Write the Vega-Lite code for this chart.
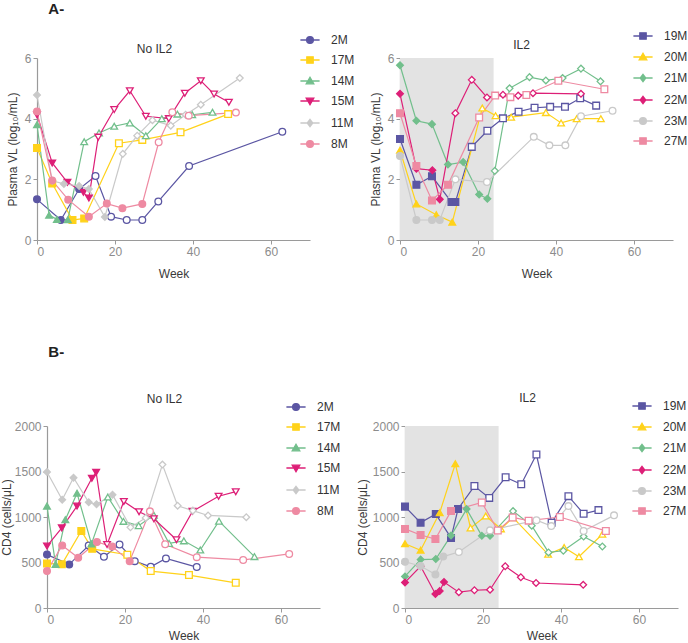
{
  "$schema": "https://vega.github.io/schema/vega-lite/v6.json",
  "padding": {"left": 0, "top": 2, "right": 0, "bottom": 0},
  "config": {
    "font": "Liberation Sans",
    "view": {"stroke": null},
    "axis": {"grid": false, "domainColor": "#9a9a9a", "tickColor": "#9a9a9a", "labelColor": "#8c8c8c", "labelFontSize": 12, "titleFontSize": 12, "titleFontWeight": "normal", "titleColor": "#3a3a3a", "domainWidth": 1.2, "tickSize": 4, "labelPadding": 2},
    "axisX": {"titlePadding": 11},
    "title": {"fontSize": 12, "fontWeight": "normal", "color": "#333333"},
    "legend": {"titleFontSize": 12}
  },
  "datasets": {
    "vl_noil2": [
      {"animal":"2M","week":0,"value":1.34,"phase":"on"},
      {"animal":"2M","week":6.1,"value":0.66,"phase":"on"},
      {"animal":"2M","week":10.8,"value":1.68,"phase":"on"},
      {"animal":"2M","week":15,"value":2.11,"phase":"off"},
      {"animal":"2M","week":19,"value":0.77,"phase":"off"},
      {"animal":"2M","week":23,"value":0.66,"phase":"off"},
      {"animal":"2M","week":27,"value":0.66,"phase":"off"},
      {"animal":"2M","week":31.1,"value":1.27,"phase":"off"},
      {"animal":"2M","week":39,"value":2.44,"phase":"off"},
      {"animal":"2M","week":62.9,"value":3.57,"phase":"off"},
      {"animal":"17M","week":0,"value":3.03,"phase":"on"},
      {"animal":"17M","week":3.9,"value":1.86,"phase":"on"},
      {"animal":"17M","week":9.1,"value":0.66,"phase":"on"},
      {"animal":"17M","week":12.1,"value":0.71,"phase":"on"},
      {"animal":"17M","week":21,"value":3.19,"phase":"off"},
      {"animal":"17M","week":27,"value":3.3,"phase":"off"},
      {"animal":"17M","week":36.8,"value":3.55,"phase":"off"},
      {"animal":"17M","week":49,"value":4.15,"phase":"off"},
      {"animal":"14M","week":0,"value":3.8,"phase":"on"},
      {"animal":"14M","week":3.1,"value":0.82,"phase":"on"},
      {"animal":"14M","week":5.1,"value":0.68,"phase":"on"},
      {"animal":"14M","week":7.9,"value":0.67,"phase":"on"},
      {"animal":"14M","week":12.1,"value":3.24,"phase":"off"},
      {"animal":"14M","week":15.9,"value":3.53,"phase":"off"},
      {"animal":"14M","week":19.8,"value":3.75,"phase":"off"},
      {"animal":"14M","week":23.8,"value":3.86,"phase":"off"},
      {"animal":"14M","week":27.9,"value":3.44,"phase":"off"},
      {"animal":"14M","week":32,"value":4.0,"phase":"off"},
      {"animal":"14M","week":36,"value":4.15,"phase":"off"},
      {"animal":"14M","week":39.8,"value":4.13,"phase":"off"},
      {"animal":"14M","week":45,"value":4.21,"phase":"off"},
      {"animal":"15M","week":0,"value":4.13,"phase":"on"},
      {"animal":"15M","week":3.9,"value":2.54,"phase":"on"},
      {"animal":"15M","week":7.8,"value":1.9,"phase":"on"},
      {"animal":"15M","week":11.9,"value":1.57,"phase":"on"},
      {"animal":"15M","week":13.3,"value":1.38,"phase":"on"},
      {"animal":"15M","week":15.7,"value":3.39,"phase":"off"},
      {"animal":"15M","week":19.8,"value":4.3,"phase":"off"},
      {"animal":"15M","week":23.8,"value":4.92,"phase":"off"},
      {"animal":"15M","week":27.9,"value":4.08,"phase":"off"},
      {"animal":"15M","week":33.8,"value":4.0,"phase":"off"},
      {"animal":"15M","week":37.9,"value":4.84,"phase":"off"},
      {"animal":"15M","week":42,"value":5.25,"phase":"off"},
      {"animal":"15M","week":45.4,"value":4.81,"phase":"off"},
      {"animal":"15M","week":49.2,"value":4.54,"phase":"off"},
      {"animal":"11M","week":0,"value":4.78,"phase":"on"},
      {"animal":"11M","week":3.9,"value":1.95,"phase":"on"},
      {"animal":"11M","week":6.9,"value":1.85,"phase":"on"},
      {"animal":"11M","week":10.8,"value":1.78,"phase":"on"},
      {"animal":"11M","week":13.3,"value":1.68,"phase":"on"},
      {"animal":"11M","week":17.4,"value":0.76,"phase":"on"},
      {"animal":"11M","week":22,"value":2.84,"phase":"off"},
      {"animal":"11M","week":25.7,"value":3.44,"phase":"off"},
      {"animal":"11M","week":29.6,"value":3.95,"phase":"off"},
      {"animal":"11M","week":34.3,"value":3.77,"phase":"off"},
      {"animal":"11M","week":38.1,"value":4.13,"phase":"off"},
      {"animal":"11M","week":42,"value":4.46,"phase":"off"},
      {"animal":"11M","week":52,"value":5.34,"phase":"off"},
      {"animal":"8M","week":0,"value":4.24,"phase":"on"},
      {"animal":"8M","week":3.9,"value":1.96,"phase":"on"},
      {"animal":"8M","week":8,"value":1.33,"phase":"on"},
      {"animal":"8M","week":13.3,"value":0.77,"phase":"on"},
      {"animal":"8M","week":17.9,"value":1.2,"phase":"on"},
      {"animal":"8M","week":21.9,"value":1.05,"phase":"on"},
      {"animal":"8M","week":27,"value":1.19,"phase":"on"},
      {"animal":"8M","week":31.2,"value":3.22,"phase":"off"},
      {"animal":"8M","week":34.7,"value":4.21,"phase":"off"},
      {"animal":"8M","week":38.9,"value":4.1,"phase":"off"},
      {"animal":"8M","week":51,"value":4.2,"phase":"off"}
    ],
    "vl_il2": [
      {"animal":"19M","week":0,"value":3.33,"phase":"on"},
      {"animal":"19M","week":4.2,"value":1.82,"phase":"on"},
      {"animal":"19M","week":8.2,"value":2.1,"phase":"on"},
      {"animal":"19M","week":13.2,"value":1.25,"phase":"on"},
      {"animal":"19M","week":14.2,"value":1.25,"phase":"on"},
      {"animal":"19M","week":18.4,"value":3.07,"phase":"off"},
      {"animal":"19M","week":22.4,"value":3.6,"phase":"off"},
      {"animal":"19M","week":26.4,"value":4.01,"phase":"off"},
      {"animal":"19M","week":30.4,"value":4.23,"phase":"off"},
      {"animal":"19M","week":34.5,"value":4.36,"phase":"off"},
      {"animal":"19M","week":38.5,"value":4.39,"phase":"off"},
      {"animal":"19M","week":42.3,"value":4.39,"phase":"off"},
      {"animal":"19M","week":46.2,"value":4.67,"phase":"off"},
      {"animal":"19M","week":50.3,"value":4.43,"phase":"off"},
      {"animal":"20M","week":0,"value":2.96,"phase":"on"},
      {"animal":"20M","week":4.2,"value":1.19,"phase":"on"},
      {"animal":"20M","week":9.3,"value":0.83,"phase":"on"},
      {"animal":"20M","week":13.4,"value":0.59,"phase":"on"},
      {"animal":"20M","week":21.1,"value":4.35,"phase":"off"},
      {"animal":"20M","week":24.5,"value":4.1,"phase":"off"},
      {"animal":"20M","week":28.5,"value":4.05,"phase":"off"},
      {"animal":"20M","week":37.4,"value":4.2,"phase":"off"},
      {"animal":"20M","week":41.3,"value":3.86,"phase":"off"},
      {"animal":"20M","week":45.3,"value":4.0,"phase":"off"},
      {"animal":"20M","week":51.5,"value":4.0,"phase":"off"},
      {"animal":"21M","week":0,"value":5.76,"phase":"on"},
      {"animal":"21M","week":4.2,"value":3.93,"phase":"on"},
      {"animal":"21M","week":8.2,"value":3.82,"phase":"on"},
      {"animal":"21M","week":12.3,"value":2.49,"phase":"on"},
      {"animal":"21M","week":16.2,"value":2.57,"phase":"on"},
      {"animal":"21M","week":20.3,"value":1.5,"phase":"on"},
      {"animal":"21M","week":22.4,"value":1.36,"phase":"on"},
      {"animal":"21M","week":24.3,"value":2.28,"phase":"off"},
      {"animal":"21M","week":28.1,"value":5.0,"phase":"off"},
      {"animal":"21M","week":33.2,"value":5.37,"phase":"off"},
      {"animal":"21M","week":37.4,"value":5.26,"phase":"off"},
      {"animal":"21M","week":41.7,"value":5.34,"phase":"off"},
      {"animal":"21M","week":46.4,"value":5.65,"phase":"off"},
      {"animal":"21M","week":51.4,"value":5.23,"phase":"off"},
      {"animal":"22M","week":0,"value":4.82,"phase":"on"},
      {"animal":"22M","week":4.2,"value":2.35,"phase":"on"},
      {"animal":"22M","week":8.3,"value":2.3,"phase":"on"},
      {"animal":"22M","week":10.2,"value":1.34,"phase":"on"},
      {"animal":"22M","week":14.2,"value":4.18,"phase":"off"},
      {"animal":"22M","week":18.4,"value":5.28,"phase":"off"},
      {"animal":"22M","week":22.3,"value":4.7,"phase":"off"},
      {"animal":"22M","week":26.4,"value":4.79,"phase":"off"},
      {"animal":"22M","week":30.3,"value":4.76,"phase":"off"},
      {"animal":"22M","week":34.1,"value":4.84,"phase":"off"},
      {"animal":"22M","week":46.4,"value":4.82,"phase":"off"},
      {"animal":"23M","week":0,"value":2.77,"phase":"on"},
      {"animal":"23M","week":4.2,"value":0.66,"phase":"on"},
      {"animal":"23M","week":8.2,"value":0.66,"phase":"on"},
      {"animal":"23M","week":10.2,"value":0.66,"phase":"on"},
      {"animal":"23M","week":14.2,"value":2.0,"phase":"off"},
      {"animal":"23M","week":22.3,"value":1.91,"phase":"off"},
      {"animal":"23M","week":34.3,"value":3.4,"phase":"off"},
      {"animal":"23M","week":38.3,"value":3.12,"phase":"off"},
      {"animal":"23M","week":42.4,"value":3.12,"phase":"off"},
      {"animal":"23M","week":46.4,"value":4.08,"phase":"off"},
      {"animal":"23M","week":54.5,"value":4.26,"phase":"off"},
      {"animal":"27M","week":0,"value":4.18,"phase":"on"},
      {"animal":"27M","week":4.2,"value":2.44,"phase":"on"},
      {"animal":"27M","week":8.2,"value":1.3,"phase":"on"},
      {"animal":"27M","week":12.3,"value":1.82,"phase":"on"},
      {"animal":"27M","week":20.3,"value":4.04,"phase":"off"},
      {"animal":"27M","week":24.4,"value":4.76,"phase":"off"},
      {"animal":"27M","week":28.3,"value":4.71,"phase":"off"},
      {"animal":"27M","week":32.4,"value":4.78,"phase":"off"},
      {"animal":"27M","week":40.6,"value":5.25,"phase":"off"},
      {"animal":"27M","week":52.4,"value":4.97,"phase":"off"}
    ],
    "cd4_noil2": [
      {"animal":"2M","week":0,"value":587,"phase":"on"},
      {"animal":"2M","week":5.7,"value":479,"phase":"on"},
      {"animal":"2M","week":10.7,"value":687,"phase":"off"},
      {"animal":"2M","week":14.6,"value":563,"phase":"off"},
      {"animal":"2M","week":18.6,"value":697,"phase":"off"},
      {"animal":"2M","week":22.5,"value":515,"phase":"off"},
      {"animal":"2M","week":26.6,"value":453,"phase":"off"},
      {"animal":"2M","week":30.5,"value":545,"phase":"off"},
      {"animal":"2M","week":38.4,"value":450,"phase":"off"},
      {"animal":"17M","week":0,"value":490,"phase":"on"},
      {"animal":"17M","week":3.8,"value":480,"phase":"on"},
      {"animal":"17M","week":8.8,"value":847,"phase":"on"},
      {"animal":"17M","week":11.6,"value":650,"phase":"on"},
      {"animal":"17M","week":20.6,"value":585,"phase":"off"},
      {"animal":"17M","week":26.6,"value":406,"phase":"off"},
      {"animal":"17M","week":36.4,"value":362,"phase":"off"},
      {"animal":"17M","week":48.4,"value":277,"phase":"off"},
      {"animal":"14M","week":0,"value":1120,"phase":"on"},
      {"animal":"14M","week":2.2,"value":480,"phase":"on"},
      {"animal":"14M","week":4.7,"value":970,"phase":"on"},
      {"animal":"14M","week":7.7,"value":1262,"phase":"on"},
      {"animal":"14M","week":11.4,"value":705,"phase":"on"},
      {"animal":"14M","week":15.6,"value":1220,"phase":"off"},
      {"animal":"14M","week":19.6,"value":952,"phase":"off"},
      {"animal":"14M","week":23.5,"value":905,"phase":"off"},
      {"animal":"14M","week":27.4,"value":1020,"phase":"off"},
      {"animal":"14M","week":31.3,"value":710,"phase":"off"},
      {"animal":"14M","week":35.1,"value":738,"phase":"off"},
      {"animal":"14M","week":39.3,"value":637,"phase":"off"},
      {"animal":"14M","week":44.1,"value":954,"phase":"off"},
      {"animal":"14M","week":53.2,"value":565,"phase":"off"},
      {"animal":"15M","week":0,"value":680,"phase":"on"},
      {"animal":"15M","week":3.8,"value":880,"phase":"on"},
      {"animal":"15M","week":7.7,"value":1120,"phase":"on"},
      {"animal":"15M","week":11.5,"value":1426,"phase":"on"},
      {"animal":"15M","week":12.6,"value":1492,"phase":"on"},
      {"animal":"15M","week":15.4,"value":698,"phase":"off"},
      {"animal":"15M","week":19.7,"value":1171,"phase":"off"},
      {"animal":"15M","week":23.6,"value":1058,"phase":"off"},
      {"animal":"15M","week":27.4,"value":980,"phase":"off"},
      {"animal":"15M","week":33.2,"value":750,"phase":"off"},
      {"animal":"15M","week":37.3,"value":1062,"phase":"off"},
      {"animal":"15M","week":44,"value":1228,"phase":"off"},
      {"animal":"15M","week":48.4,"value":1278,"phase":"off"},
      {"animal":"11M","week":0,"value":1495,"phase":"on"},
      {"animal":"11M","week":3.9,"value":1190,"phase":"on"},
      {"animal":"11M","week":6.8,"value":1432,"phase":"on"},
      {"animal":"11M","week":10.7,"value":1162,"phase":"on"},
      {"animal":"11M","week":12.7,"value":1140,"phase":"on"},
      {"animal":"11M","week":16.8,"value":1245,"phase":"on"},
      {"animal":"11M","week":21.4,"value":887,"phase":"off"},
      {"animal":"11M","week":25.3,"value":990,"phase":"off"},
      {"animal":"11M","week":29.6,"value":1576,"phase":"off"},
      {"animal":"11M","week":33.5,"value":1124,"phase":"off"},
      {"animal":"11M","week":37.4,"value":1070,"phase":"off"},
      {"animal":"11M","week":41.3,"value":1017,"phase":"off"},
      {"animal":"11M","week":51.1,"value":998,"phase":"off"},
      {"animal":"8M","week":0,"value":406,"phase":"on"},
      {"animal":"8M","week":3.9,"value":687,"phase":"on"},
      {"animal":"8M","week":8,"value":552,"phase":"on"},
      {"animal":"8M","week":12.8,"value":725,"phase":"on"},
      {"animal":"8M","week":16.7,"value":675,"phase":"on"},
      {"animal":"8M","week":21.2,"value":515,"phase":"on"},
      {"animal":"8M","week":26.4,"value":1062,"phase":"off"},
      {"animal":"8M","week":30.3,"value":700,"phase":"off"},
      {"animal":"8M","week":38.4,"value":559,"phase":"off"},
      {"animal":"8M","week":50.3,"value":528,"phase":"off"},
      {"animal":"8M","week":62.1,"value":594,"phase":"off"}
    ],
    "cd4_il2": [
      {"animal":"19M","week":0,"value":1114,"phase":"on"},
      {"animal":"19M","week":4,"value":938,"phase":"on"},
      {"animal":"19M","week":7.9,"value":1032,"phase":"on"},
      {"animal":"19M","week":11.8,"value":770,"phase":"on"},
      {"animal":"19M","week":13.6,"value":1088,"phase":"on"},
      {"animal":"19M","week":17.8,"value":1340,"phase":"off"},
      {"animal":"19M","week":21.6,"value":1210,"phase":"off"},
      {"animal":"19M","week":25.8,"value":1436,"phase":"off"},
      {"animal":"19M","week":29.8,"value":1360,"phase":"off"},
      {"animal":"19M","week":33.7,"value":1686,"phase":"off"},
      {"animal":"19M","week":37.6,"value":938,"phase":"off"},
      {"animal":"19M","week":41.9,"value":1229,"phase":"off"},
      {"animal":"19M","week":45.8,"value":1036,"phase":"off"},
      {"animal":"19M","week":49.6,"value":1076,"phase":"off"},
      {"animal":"20M","week":0,"value":706,"phase":"on"},
      {"animal":"20M","week":4,"value":635,"phase":"on"},
      {"animal":"20M","week":8.9,"value":1047,"phase":"on"},
      {"animal":"20M","week":12.9,"value":1585,"phase":"on"},
      {"animal":"20M","week":16.8,"value":880,"phase":"off"},
      {"animal":"20M","week":20.7,"value":1011,"phase":"off"},
      {"animal":"20M","week":24.6,"value":870,"phase":"off"},
      {"animal":"20M","week":27.7,"value":993,"phase":"off"},
      {"animal":"20M","week":36.7,"value":590,"phase":"off"},
      {"animal":"20M","week":40.8,"value":665,"phase":"off"},
      {"animal":"20M","week":44.6,"value":564,"phase":"off"},
      {"animal":"20M","week":50.6,"value":811,"phase":"off"},
      {"animal":"21M","week":0,"value":347,"phase":"on"},
      {"animal":"21M","week":4,"value":532,"phase":"on"},
      {"animal":"21M","week":7.9,"value":538,"phase":"on"},
      {"animal":"21M","week":11.8,"value":796,"phase":"on"},
      {"animal":"21M","week":15.8,"value":1087,"phase":"on"},
      {"animal":"21M","week":19.7,"value":793,"phase":"on"},
      {"animal":"21M","week":21.8,"value":793,"phase":"on"},
      {"animal":"21M","week":27.7,"value":1065,"phase":"off"},
      {"animal":"21M","week":32.5,"value":905,"phase":"off"},
      {"animal":"21M","week":36.8,"value":611,"phase":"off"},
      {"animal":"21M","week":40.6,"value":629,"phase":"off"},
      {"animal":"21M","week":45.8,"value":785,"phase":"off"},
      {"animal":"21M","week":50.6,"value":676,"phase":"off"},
      {"animal":"22M","week":0,"value":281,"phase":"on"},
      {"animal":"22M","week":4,"value":458,"phase":"on"},
      {"animal":"22M","week":7.8,"value":154,"phase":"on"},
      {"animal":"22M","week":8.9,"value":186,"phase":"on"},
      {"animal":"22M","week":10,"value":285,"phase":"on"},
      {"animal":"22M","week":13.8,"value":174,"phase":"off"},
      {"animal":"22M","week":17.8,"value":195,"phase":"off"},
      {"animal":"22M","week":21.8,"value":201,"phase":"off"},
      {"animal":"22M","week":25.7,"value":459,"phase":"off"},
      {"animal":"22M","week":29.7,"value":338,"phase":"off"},
      {"animal":"22M","week":33.6,"value":275,"phase":"off"},
      {"animal":"22M","week":45.7,"value":255,"phase":"off"},
      {"animal":"23M","week":0,"value":508,"phase":"on"},
      {"animal":"23M","week":4,"value":462,"phase":"on"},
      {"animal":"23M","week":7.8,"value":368,"phase":"on"},
      {"animal":"23M","week":9.8,"value":565,"phase":"on"},
      {"animal":"23M","week":13.8,"value":615,"phase":"off"},
      {"animal":"23M","week":21.8,"value":853,"phase":"off"},
      {"animal":"23M","week":33.7,"value":965,"phase":"off"},
      {"animal":"23M","week":37.5,"value":900,"phase":"off"},
      {"animal":"23M","week":41.9,"value":1120,"phase":"off"},
      {"animal":"23M","week":45.8,"value":847,"phase":"off"},
      {"animal":"23M","week":53.6,"value":1018,"phase":"off"},
      {"animal":"27M","week":0,"value":869,"phase":"on"},
      {"animal":"27M","week":4,"value":802,"phase":"on"},
      {"animal":"27M","week":7.8,"value":757,"phase":"on"},
      {"animal":"27M","week":11.8,"value":1065,"phase":"on"},
      {"animal":"27M","week":19.7,"value":1160,"phase":"off"},
      {"animal":"27M","week":23.8,"value":851,"phase":"off"},
      {"animal":"27M","week":27.6,"value":995,"phase":"off"},
      {"animal":"27M","week":31.7,"value":960,"phase":"off"},
      {"animal":"27M","week":39.7,"value":1000,"phase":"off"},
      {"animal":"27M","week":51.5,"value":847,"phase":"off"}
    ],
    "il2_period": [{"start": 0, "end": 24}]
  },
  "resolve": {"scale": {"stroke": "independent", "fill": "independent", "shape": "independent", "color": "independent"}},
  "spacing": 66,
  "vconcat": [
    {
      "title": {"text": "A-", "anchor": "start", "fontSize": 15, "fontWeight": "bold", "color": "#222222", "dx": 42, "offset": 13},
      "resolve": {"scale": {"stroke": "independent", "fill": "independent", "shape": "independent", "color": "independent"}},
      "spacing": 14,
      "hconcat": [
        {
          "width": 273, "height": 182,
          "title": {"text": "No IL2", "dx": -19, "dy": 25.5, "offset": 4},
          "data": {"name": "vl_noil2"},
          "resolve": {"scale": {"shape": "independent"}},
          "layer": [
            {"mark": {"type": "line", "strokeWidth": 1.2},
             "encoding": {
               "x": {"field": "week", "type": "quantitative", "scale": {"domain": [0, 70], "nice": false}, "axis": {"values": [0, 20, 40, 60], "title": "Week"}},
               "y": {"field": "value", "type": "quantitative", "scale": {"domain": [0, 6], "nice": false}, "axis": {"values": [0, 2, 4, 6], "title": "Plasma VL (log₁₀/mL)", "titlePadding": 5}},
               "stroke": {"field": "animal", "type": "nominal", "legend": null, "scale": {"domain": ["2M","17M","14M","15M","11M","8M"], "range": ["#5b56a3","#ffd21a","#72bf8c","#dd1f77","#c9c9c9","#ee8aa2"]}}
             }},
            {"mark": {"type": "point", "filled": true, "size": 45, "strokeWidth": 1.3, "opacity": 1},
             "encoding": {
               "x": {"field": "week", "type": "quantitative"},
               "y": {"field": "value", "type": "quantitative"},
               "shape": {"field": "animal", "type": "nominal", "legend": null, "scale": {"domain": ["2M","17M","14M","15M","11M","8M"], "range": ["circle","square","triangle-up","triangle-down","diamond","circle"]}},
               "stroke": {"field": "animal", "type": "nominal", "legend": null},
               "fill": {"field": "animal", "type": "nominal", "legend": null, "scale": {"domain": ["2M","17M","14M","15M","11M","8M"], "range": ["#5b56a3","#ffd21a","#72bf8c","#dd1f77","#c9c9c9","#ee8aa2"]}, "condition": {"test": "datum.phase === 'off'", "value": "#ffffff"}}
             }},
            {"mark": {"type": "point", "filled": true, "opacity": 0, "size": 64},
             "encoding": {
               "x": {"field": "week", "type": "quantitative"},
               "y": {"field": "value", "type": "quantitative"},
               "color": {"field": "animal", "type": "nominal", "legend": null, "scale": {"domain": ["2M","17M","14M","15M","11M","8M"], "range": ["#5b56a3","#ffd21a","#72bf8c","#dd1f77","#c9c9c9","#ee8aa2"]}},
               "shape": {"field": "animal", "type": "nominal",
                 "scale": {"domain": ["2M","17M","14M","15M","11M","8M"], "range": [
                   "M-2.4,0L2.4,0M-0.85,0a0.85,0.85 0 1,0 1.7,0a0.85,0.85 0 1,0 -1.7,0Z",
                   "M-2.4,0L2.4,0M-0.8,-0.8h1.6v1.6h-1.6Z",
                   "M-2.4,0L2.4,0M0,-0.95L0.95,0.7L-0.95,0.7Z",
                   "M-2.4,0L2.4,0M0,0.95L0.95,-0.7L-0.95,-0.7Z",
                   "M-2.4,0L2.4,0M0,-0.9L0.7,0L0,0.9L-0.7,0Z",
                   "M-2.4,0L2.4,0M-0.85,0a0.85,0.85 0 1,0 1.7,0a0.85,0.85 0 1,0 -1.7,0Z"]},
                 "legend": {"title": null, "orient": "none", "legendX": 267, "legendY": -24, "symbolSize": 64, "symbolStrokeWidth": 1.3, "symbolOpacity": 1, "labelOffset": 15, "labelFontSize": 12, "labelColor": "#333333", "rowPadding": 8, "padding": 0,
                   "symbolFillColor": {"expr": "datum.value==='2M'?'#5b56a3':datum.value==='17M'?'#ffd21a':datum.value==='14M'?'#72bf8c':datum.value==='15M'?'#dd1f77':datum.value==='11M'?'#c9c9c9':'#ee8aa2'"},
                   "symbolStrokeColor": {"expr": "datum.value==='2M'?'#5b56a3':datum.value==='17M'?'#ffd21a':datum.value==='14M'?'#72bf8c':datum.value==='15M'?'#dd1f77':datum.value==='11M'?'#c9c9c9':'#ee8aa2'"}}}
             }}
          ]
        },
        {
          "width": 273, "height": 182,
          "title": {"text": "IL2", "dx": -15, "dy": 25.5, "offset": 4},
          "resolve": {"scale": {"shape": "independent"}},
          "layer": [
            {"data": {"name": "il2_period"},
             "mark": {"type": "rect", "color": "#e3e3e3"},
             "encoding": {
               "x": {"field": "start", "type": "quantitative", "scale": {"domain": [0, 70], "nice": false}, "axis": {"values": [0, 20, 40, 60], "title": "Week"}},
               "x2": {"field": "end"},
               "y": {"datum": 0, "type": "quantitative", "scale": {"domain": [0, 6], "nice": false}, "axis": {"values": [0, 2, 4, 6], "title": "Plasma VL (log₁₀/mL)", "titlePadding": 5}},
               "y2": {"datum": 6}
             }},
            {"data": {"name": "vl_il2"},
             "mark": {"type": "line", "strokeWidth": 1.2},
             "encoding": {
               "x": {"field": "week", "type": "quantitative"},
               "y": {"field": "value", "type": "quantitative"},
               "stroke": {"field": "animal", "type": "nominal", "legend": null, "scale": {"domain": ["19M","20M","21M","22M","23M","27M"], "range": ["#5b56a3","#ffd21a","#72bf8c","#dd1f77","#c9c9c9","#ee8aa2"]}}
             }},
            {"data": {"name": "vl_il2"},
             "mark": {"type": "point", "filled": true, "size": 45, "strokeWidth": 1.3, "opacity": 1},
             "encoding": {
               "x": {"field": "week", "type": "quantitative"},
               "y": {"field": "value", "type": "quantitative"},
               "shape": {"field": "animal", "type": "nominal", "legend": null, "scale": {"domain": ["19M","20M","21M","22M","23M","27M"], "range": ["square","triangle-up","diamond","diamond","circle","square"]}},
               "stroke": {"field": "animal", "type": "nominal", "legend": null},
               "fill": {"field": "animal", "type": "nominal", "legend": null, "scale": {"domain": ["19M","20M","21M","22M","23M","27M"], "range": ["#5b56a3","#ffd21a","#72bf8c","#dd1f77","#c9c9c9","#ee8aa2"]}, "condition": {"test": "datum.phase === 'off'", "value": "#ffffff"}}
             }},
            {"data": {"name": "vl_il2"},
             "mark": {"type": "point", "filled": true, "opacity": 0, "size": 64},
             "encoding": {
               "x": {"field": "week", "type": "quantitative"},
               "y": {"field": "value", "type": "quantitative"},
               "color": {"field": "animal", "type": "nominal", "legend": null, "scale": {"domain": ["19M","20M","21M","22M","23M","27M"], "range": ["#5b56a3","#ffd21a","#72bf8c","#dd1f77","#c9c9c9","#ee8aa2"]}},
               "shape": {"field": "animal", "type": "nominal",
                 "scale": {"domain": ["19M","20M","21M","22M","23M","27M"], "range": [
                   "M-2.4,0L2.4,0M-0.8,-0.8h1.6v1.6h-1.6Z",
                   "M-2.4,0L2.4,0M0,-0.95L0.95,0.7L-0.95,0.7Z",
                   "M-2.4,0L2.4,0M0,-0.9L0.7,0L0,0.9L-0.7,0Z",
                   "M-2.4,0L2.4,0M0,-0.9L0.7,0L0,0.9L-0.7,0Z",
                   "M-2.4,0L2.4,0M-0.85,0a0.85,0.85 0 1,0 1.7,0a0.85,0.85 0 1,0 -1.7,0Z",
                   "M-2.4,0L2.4,0M-0.8,-0.8h1.6v1.6h-1.6Z"]},
                 "legend": {"title": null, "orient": "none", "legendX": 237, "legendY": -28, "symbolSize": 64, "symbolStrokeWidth": 1.3, "symbolOpacity": 1, "labelOffset": 15, "labelFontSize": 12, "labelColor": "#333333", "rowPadding": 8, "padding": 0,
                   "symbolFillColor": {"expr": "datum.value==='19M'?'#5b56a3':datum.value==='20M'?'#ffd21a':datum.value==='21M'?'#72bf8c':datum.value==='22M'?'#dd1f77':datum.value==='23M'?'#c9c9c9':'#ee8aa2'"},
                   "symbolStrokeColor": {"expr": "datum.value==='19M'?'#5b56a3':datum.value==='20M'?'#ffd21a':datum.value==='21M'?'#72bf8c':datum.value==='22M'?'#dd1f77':datum.value==='23M'?'#c9c9c9':'#ee8aa2'"}}}
             }}
          ]
        }
      ]
    },
    {
      "title": {"text": "B-", "anchor": "start", "fontSize": 15, "fontWeight": "bold", "color": "#222222", "dx": 48, "offset": 32},
      "resolve": {"scale": {"stroke": "independent", "fill": "independent", "shape": "independent", "color": "independent"}},
      "spacing": 15,
      "hconcat": [
        {
          "width": 283, "height": 182,
          "title": {"text": "No IL2", "dx": -14, "dy": 9, "offset": 4},
          "data": {"name": "cd4_noil2"},
          "resolve": {"scale": {"shape": "independent"}},
          "layer": [
            {"mark": {"type": "line", "strokeWidth": 1.2},
             "encoding": {
               "x": {"field": "week", "type": "quantitative", "scale": {"domain": [0, 70], "nice": false, "range": [10, 283]}, "axis": {"values": [0, 20, 40, 60], "title": "Week", "titlePadding": 5}},
               "y": {"field": "value", "type": "quantitative", "scale": {"domain": [0, 2000], "nice": false}, "axis": {"values": [0, 500, 1000, 1500, 2000], "format": "d", "title": "CD4 (cells/μL)", "titlePadding": 1, "offset": -10}},
               "stroke": {"field": "animal", "type": "nominal", "legend": null, "scale": {"domain": ["2M","17M","14M","15M","11M","8M"], "range": ["#5b56a3","#ffd21a","#72bf8c","#dd1f77","#c9c9c9","#ee8aa2"]}}
             }},
            {"mark": {"type": "point", "filled": true, "size": 45, "strokeWidth": 1.3, "opacity": 1},
             "encoding": {
               "x": {"field": "week", "type": "quantitative"},
               "y": {"field": "value", "type": "quantitative"},
               "shape": {"field": "animal", "type": "nominal", "legend": null, "scale": {"domain": ["2M","17M","14M","15M","11M","8M"], "range": ["circle","square","triangle-up","triangle-down","diamond","circle"]}},
               "stroke": {"field": "animal", "type": "nominal", "legend": null},
               "fill": {"field": "animal", "type": "nominal", "legend": null, "scale": {"domain": ["2M","17M","14M","15M","11M","8M"], "range": ["#5b56a3","#ffd21a","#72bf8c","#dd1f77","#c9c9c9","#ee8aa2"]}, "condition": {"test": "datum.phase === 'off'", "value": "#ffffff"}}
             }},
            {"mark": {"type": "point", "filled": true, "opacity": 0, "size": 64},
             "encoding": {
               "x": {"field": "week", "type": "quantitative"},
               "y": {"field": "value", "type": "quantitative"},
               "color": {"field": "animal", "type": "nominal", "legend": null, "scale": {"domain": ["2M","17M","14M","15M","11M","8M"], "range": ["#5b56a3","#ffd21a","#72bf8c","#dd1f77","#c9c9c9","#ee8aa2"]}},
               "shape": {"field": "animal", "type": "nominal",
                 "scale": {"domain": ["2M","17M","14M","15M","11M","8M"], "range": [
                   "M-2.4,0L2.4,0M-0.85,0a0.85,0.85 0 1,0 1.7,0a0.85,0.85 0 1,0 -1.7,0Z",
                   "M-2.4,0L2.4,0M-0.8,-0.8h1.6v1.6h-1.6Z",
                   "M-2.4,0L2.4,0M0,-0.95L0.95,0.7L-0.95,0.7Z",
                   "M-2.4,0L2.4,0M0,0.95L0.95,-0.7L-0.95,-0.7Z",
                   "M-2.4,0L2.4,0M0,-0.9L0.7,0L0,0.9L-0.7,0Z",
                   "M-2.4,0L2.4,0M-0.85,0a0.85,0.85 0 1,0 1.7,0a0.85,0.85 0 1,0 -1.7,0Z"]},
                 "legend": {"title": null, "orient": "none", "legendX": 253, "legendY": -25, "symbolSize": 64, "symbolStrokeWidth": 1.3, "symbolOpacity": 1, "labelOffset": 15, "labelFontSize": 12, "labelColor": "#333333", "rowPadding": 8, "padding": 0,
                   "symbolFillColor": {"expr": "datum.value==='2M'?'#5b56a3':datum.value==='17M'?'#ffd21a':datum.value==='14M'?'#72bf8c':datum.value==='15M'?'#dd1f77':datum.value==='11M'?'#c9c9c9':'#ee8aa2'"},
                   "symbolStrokeColor": {"expr": "datum.value==='2M'?'#5b56a3':datum.value==='17M'?'#ffd21a':datum.value==='14M'?'#72bf8c':datum.value==='15M'?'#dd1f77':datum.value==='11M'?'#c9c9c9':'#ee8aa2'"}}}
             }}
          ]
        },
        {
          "width": 273, "height": 182,
          "title": {"text": "IL2", "dx": -14, "dy": 9, "offset": 4},
          "resolve": {"scale": {"shape": "independent"}},
          "layer": [
            {"data": {"name": "il2_period"},
             "mark": {"type": "rect", "color": "#e3e3e3"},
             "encoding": {
               "x": {"field": "start", "type": "quantitative", "scale": {"domain": [0, 70], "nice": false}, "axis": {"values": [0, 20, 40, 60], "title": "Week", "titlePadding": 5}},
               "x2": {"field": "end"},
               "y": {"datum": 0, "type": "quantitative", "scale": {"domain": [0, 2000], "nice": false}, "axis": {"values": [0, 500, 1000, 1500, 2000], "format": "d", "title": "CD4 (cells/μL)", "titlePadding": 3}},
               "y2": {"datum": 2000}
             }},
            {"data": {"name": "cd4_il2"},
             "mark": {"type": "line", "strokeWidth": 1.2},
             "encoding": {
               "x": {"field": "week", "type": "quantitative"},
               "y": {"field": "value", "type": "quantitative"},
               "stroke": {"field": "animal", "type": "nominal", "legend": null, "scale": {"domain": ["19M","20M","21M","22M","23M","27M"], "range": ["#5b56a3","#ffd21a","#72bf8c","#dd1f77","#c9c9c9","#ee8aa2"]}}
             }},
            {"data": {"name": "cd4_il2"},
             "mark": {"type": "point", "filled": true, "size": 45, "strokeWidth": 1.3, "opacity": 1},
             "encoding": {
               "x": {"field": "week", "type": "quantitative"},
               "y": {"field": "value", "type": "quantitative"},
               "shape": {"field": "animal", "type": "nominal", "legend": null, "scale": {"domain": ["19M","20M","21M","22M","23M","27M"], "range": ["square","triangle-up","diamond","diamond","circle","square"]}},
               "stroke": {"field": "animal", "type": "nominal", "legend": null},
               "fill": {"field": "animal", "type": "nominal", "legend": null, "scale": {"domain": ["19M","20M","21M","22M","23M","27M"], "range": ["#5b56a3","#ffd21a","#72bf8c","#dd1f77","#c9c9c9","#ee8aa2"]}, "condition": {"test": "datum.phase === 'off'", "value": "#ffffff"}}
             }},
            {"data": {"name": "cd4_il2"},
             "mark": {"type": "point", "filled": true, "opacity": 0, "size": 64},
             "encoding": {
               "x": {"field": "week", "type": "quantitative"},
               "y": {"field": "value", "type": "quantitative"},
               "color": {"field": "animal", "type": "nominal", "legend": null, "scale": {"domain": ["19M","20M","21M","22M","23M","27M"], "range": ["#5b56a3","#ffd21a","#72bf8c","#dd1f77","#c9c9c9","#ee8aa2"]}},
               "shape": {"field": "animal", "type": "nominal",
                 "scale": {"domain": ["19M","20M","21M","22M","23M","27M"], "range": [
                   "M-2.4,0L2.4,0M-0.8,-0.8h1.6v1.6h-1.6Z",
                   "M-2.4,0L2.4,0M0,-0.95L0.95,0.7L-0.95,0.7Z",
                   "M-2.4,0L2.4,0M0,-0.9L0.7,0L0,0.9L-0.7,0Z",
                   "M-2.4,0L2.4,0M0,-0.9L0.7,0L0,0.9L-0.7,0Z",
                   "M-2.4,0L2.4,0M-0.85,0a0.85,0.85 0 1,0 1.7,0a0.85,0.85 0 1,0 -1.7,0Z",
                   "M-2.4,0L2.4,0M-0.8,-0.8h1.6v1.6h-1.6Z"]},
                 "legend": {"title": null, "orient": "none", "legendX": 231, "legendY": -26, "symbolSize": 64, "symbolStrokeWidth": 1.3, "symbolOpacity": 1, "labelOffset": 15, "labelFontSize": 12, "labelColor": "#333333", "rowPadding": 8, "padding": 0,
                   "symbolFillColor": {"expr": "datum.value==='19M'?'#5b56a3':datum.value==='20M'?'#ffd21a':datum.value==='21M'?'#72bf8c':datum.value==='22M'?'#dd1f77':datum.value==='23M'?'#c9c9c9':'#ee8aa2'"},
                   "symbolStrokeColor": {"expr": "datum.value==='19M'?'#5b56a3':datum.value==='20M'?'#ffd21a':datum.value==='21M'?'#72bf8c':datum.value==='22M'?'#dd1f77':datum.value==='23M'?'#c9c9c9':'#ee8aa2'"}}}
             }}
          ]
        }
      ]
    }
  ]
}
